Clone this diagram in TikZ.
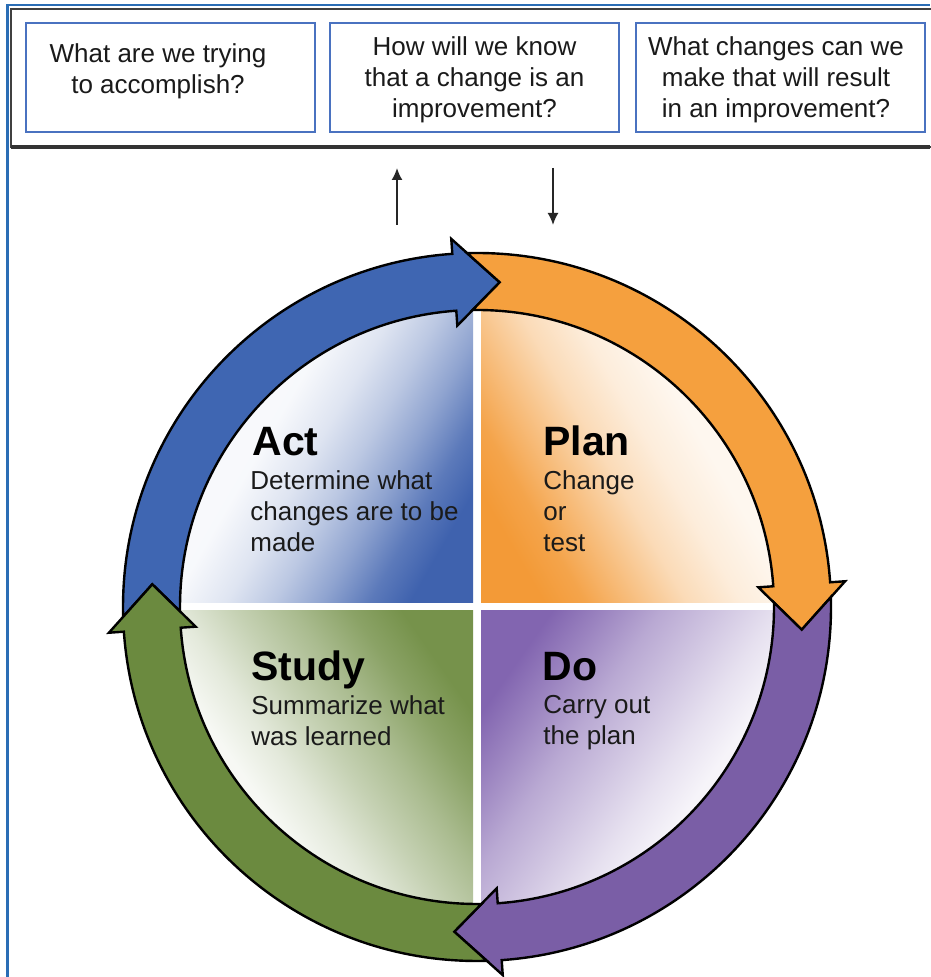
\documentclass[tikz,border=0pt]{standalone}
\usepackage{fontspec}
\setmainfont{Liberation Sans}
\usetikzlibrary{arrows.meta}
\definecolor{frameblue}{HTML}{2A6DB5}
\definecolor{boxblue}{HTML}{4A72C0}
\definecolor{arrblue}{HTML}{3F66B2}
\definecolor{arrorange}{HTML}{F5A03E}
\definecolor{arrpurple}{HTML}{7A5EA6}
\definecolor{arrgreen}{HTML}{6B8A3F}
\definecolor{qblue}{HTML}{3F62AE}
\definecolor{qorange}{HTML}{F39A37}
\definecolor{qgreen}{HTML}{76924B}
\definecolor{qpurple}{HTML}{8265B0}
\definecolor{txt}{HTML}{1A1A1A}
\pgfdeclareverticalshading{actshade}{100bp}{color(0bp)=(qblue); color(25bp)=(qblue); color(31bp)=(qblue!85); color(38bp)=(qblue!58); color(45bp)=(qblue!35); color(52bp)=(qblue!17); color(60bp)=(qblue!4); color(100bp)=(white)}
\pgfdeclareverticalshading{planshade}{100bp}{color(0bp)=(qorange); color(25bp)=(qorange); color(31bp)=(qorange!90); color(38bp)=(qorange!65); color(46bp)=(qorange!36); color(54bp)=(qorange!18); color(62bp)=(qorange!8); color(100bp)=(qorange!8)}
\pgfdeclareverticalshading{studyshade}{100bp}{color(0bp)=(qgreen); color(25bp)=(qgreen); color(32bp)=(qgreen!85); color(40bp)=(qgreen!62); color(48bp)=(qgreen!42); color(56bp)=(qgreen!20); color(63bp)=(qgreen!6); color(100bp)=(qgreen!6)}
\pgfdeclareverticalshading{doshade}{100bp}{color(0bp)=(qpurple); color(25bp)=(qpurple); color(32bp)=(qpurple!80); color(40bp)=(qpurple!56); color(48bp)=(qpurple!38); color(56bp)=(qpurple!20); color(63bp)=(qpurple!7); color(100bp)=(qpurple!7)}
% #1 colour, #2 nominal start angle, #3 nominal end angle (clockwise)
\newcommand{\pdsaring}[3]{%
  \filldraw[ringarrow, fill=#1]
    ({#2+1.6}:354) arc[start angle={#2+1.6}, end angle={#3+4}, radius=354]
    -- ({#3+4}:369) -- ({#3-4}:325.5) -- ({#3+4}:282) -- ({#3+4}:297)
    arc[start angle={#3+4}, end angle={#2+0.85}, radius=297]
    -- ({#2-4}:325.5) -- cycle;}
\begin{document}
\begin{tikzpicture}[x=0.5pt,y=0.5pt,
  qbox/.style={draw=boxblue, line width=1pt, minimum width=144.5pt, minimum height=54.5pt, inner sep=0pt},
  qtext/.style={align=center, inner sep=0pt, font=\fontsize{13}{15.5}\selectfont, text=txt},
  title/.style={anchor=base west, inner sep=0pt, font=\bfseries\fontsize{20.5}{24}\selectfont, text=black},
  body/.style={anchor=north west, align=left, inner sep=0pt, font=\fontsize{13}{15.5}\selectfont, text=txt},
  ringarrow/.style={draw=black, line width=1.2pt, line join=miter},
  vline/.style={draw=black!85, line width=0.9pt, -{Latex[length=6pt,width=5.5pt]}}
]
\useasboundingbox (0,0) rectangle (930,977);
\fill[white] (0,0) rectangle (930,977);
% blue outer frame
\draw[frameblue, line width=1.1pt] (7.5,0) -- (7.5,972) -- (930,972);
% question band
\draw[black!75, line width=1.2pt] (11,830) rectangle (945,968);
\draw[black!80, line width=1.8pt] (11,830) -- (930,830);

\node[qbox] (b1) at (170.5,899.5) {};
\node[qbox] (b2) at (474.5,899.5) {};
\node[qbox] (b3) at (780.5,899.5) {};
\node[qtext] (t1) at (158,906) {What are we trying\\to accomplish?};
\node[qtext] (t2) at (474.5,897) {How will we know\\that a change is an\\improvement?};
\node[qtext] (t3) at (776,897) {What changes can we\\make that will result\\in an improvement?};

\coordinate (u1) at (397,752); \coordinate (u2) at (397,809);
\coordinate (d1) at (553,809); \coordinate (d2) at (553,752);
\draw[vline] (u1) -- (u2);
\draw[vline] (d1) -- (d2);

\begin{scope}[shift={(477,370)}]
  \begin{scope}
    \clip (0,0) circle[radius=300];
    \shade[shading=actshade, shading angle=60] (-300,4) rectangle (-4,300);
    \shade[shading=planshade, shading angle=-60] (4,4) rectangle (300,300);
    \shade[shading=studyshade, shading angle=125] (-300,-300) rectangle (-4,-4);
    \shade[shading=doshade, shading angle=-125] (4,-300) rectangle (300,-4);
  \end{scope}
  \pdsaring{arrblue}{180}{90}
  \pdsaring{arrorange}{90}{0}
  \pdsaring{arrpurple}{0}{-90}
  \pdsaring{arrgreen}{-90}{-180}
\end{scope}

\node[title] (act) at (252,521) {Act};
\node[body] (actb) at (250,507) {Determine what\\changes are to be\\made};
\node[title] (plan) at (543,521) {Plan};
\node[body] (planb) at (543,507) {Change\\or\\test};
\node[title] (study) at (251,296) {Study};
\node[body] (studyb) at (251,282) {Summarize what\\was learned};
\node[title] (doT) at (542,296) {Do};
\node[body] (dob) at (543,282) {Carry out\\the plan};
\end{tikzpicture}
\end{document}
